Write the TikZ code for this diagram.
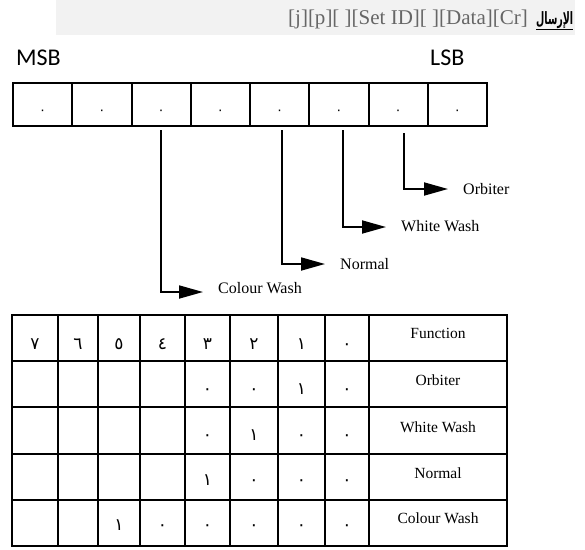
\documentclass[tikz,border=0pt]{standalone}
\usepackage{fontspec}
\setmainfont{Liberation Serif}
\newfontfamily\calfont{Carlito}
\newfontfamily\arabicfont[Script=Arabic]{DejaVu Sans}
\TeXXeTstate=1
\usetikzlibrary{arrows.meta}
\definecolor{bandgrey}{HTML}{F2F2F2}
\definecolor{headgrey}{HTML}{666666}
\tikzset{
  regcell/.style={draw, line width=2pt, minimum width=59.25pt, minimum height=43pt, inner sep=0pt, outer sep=0pt},
  regdot/.style={font=\arabicfont\fontsize{13}{13}\selectfont, inner sep=0pt, anchor=base},
  digit/.style={font=\arabicfont\fontsize{17}{17}\selectfont, inner sep=0pt, anchor=base},
  lbl/.style={font=\fontsize{16}{16}\selectfont, inner sep=3pt, anchor=west},
  tlbl/.style={font=\fontsize{15.5}{15.5}\selectfont, inner sep=0pt},
  bitline/.style={line width=1.8pt, -{Triangle[length=24pt,width=13pt]}},
  grid/.style={line width=2.4pt, line cap=rect},
  msb/.style={font=\calfont\fontsize{24}{24}\selectfont, inner sep=0pt}
}
\begin{document}
\begin{tikzpicture}[x=1pt,y=-1pt]
\useasboundingbox (0,0) rectangle (585,549);
% header band
\fill[bandgrey] (56,0) rectangle (575,35);
\node[anchor=base east, text=headgrey, font=\fontsize{21}{21}\selectfont, inner sep=0pt] (hdr) at (528,24) {[j][p][ ][Set ID][ ][Data][Cr]};
\node[anchor=base west, font=\arabicfont\bfseries\fontsize{17}{17}\selectfont, inner sep=0pt] (ar) at (536,24) {\scalebox{0.56}[1]{\underline{\beginR الإرسال\endR}}};
% MSB / LSB
\node[msb, anchor=west] (msb) at (16,58) {MSB};
\node[msb, anchor=west] (lsb) at (430,58) {LSB};
% register
\foreach \i in {1,...,8} {
  \node[regcell] (r\i) at ({13+59.25*(\i-0.5)},104.5) {};
  \node[regdot] (d\i) at ([yshift=-10pt]r\i.center) {٠};
}
% start points of the bit lines
\coordinate (s3) at (160.7,130);
\coordinate (s5) at (282.3,130);
\coordinate (s6) at (343.3,130);
\coordinate (s7) at (404,133);
% labels
\node[lbl] (lcw) at (215,288) {Colour Wash};
\node[lbl] (lno) at (337,264) {Normal};
\node[lbl] (lww) at (398,226) {White Wash};
\node[lbl] (lor) at (460,189) {Orbiter};
% connectors
\draw[bitline] (s3) |- ([xshift=-12pt]lcw.west |- 0,292);
\draw[bitline] (s5) |- ([xshift=-12pt]lno.west);
\draw[bitline] (s6) |- ([xshift=-12pt]lww.west |- 0,227);
\draw[bitline] (s7) |- ([xshift=-12pt]lor.west);
% table grid
\def\tcols{12,58,98,140,185,230,278,325,369,507}
\def\trows{315,361,407,454,500,546}
\foreach \x in \tcols { \draw[grid] (\x,315) -- (\x,546); }
\foreach \y in \trows { \draw[grid] (12,\y) -- (507,\y); }
% header row digits
\foreach \c/\t in {35/٧,78/٦,119/٥,162.5/٤,207.5/٣,254/٢,301.5/١,347/٠} {
  \node[digit] at (\c,349) {\t};
}
\node[tlbl] (fn) at (438,333) {Function};
% Orbiter row
\foreach \c/\t in {207.5/٠,254/٠,301.5/١,347/٠} { \node[digit] at (\c,394) {\t}; }
\node[tlbl] (tor) at (438,380) {Orbiter};
% White Wash row
\foreach \c/\t in {207.5/٠,254/١,301.5/٠,347/٠} { \node[digit] at (\c,440.5) {\t}; }
\node[tlbl] (tww) at (438,427) {White Wash};
% Normal row
\foreach \c/\t in {207.5/١,254/٠,301.5/٠,347/٠} { \node[digit] at (\c,485) {\t}; }
\node[tlbl] (tno) at (438,473) {Normal};
% Colour Wash row
\foreach \c/\t in {119/١,162.5/٠,207.5/٠,254/٠,301.5/٠,347/٠} { \node[digit] at (\c,530) {\t}; }
\node[tlbl] (tcw) at (438,518) {Colour Wash};
\end{tikzpicture}
\end{document}
